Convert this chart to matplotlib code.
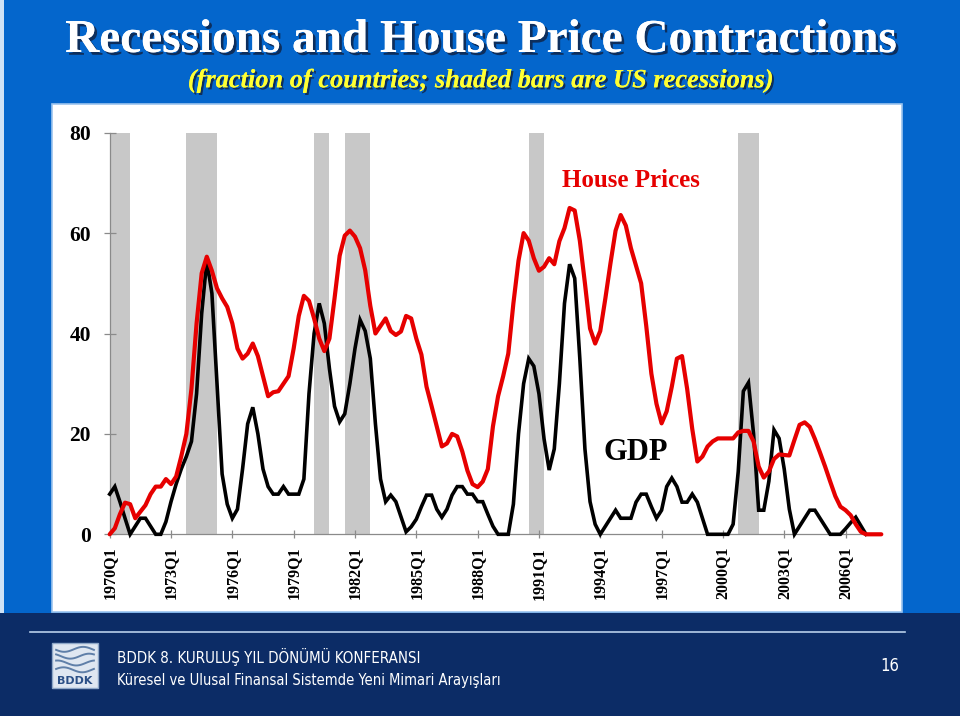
import numpy as np
import matplotlib
matplotlib.use("Agg")
import matplotlib.pyplot as plt
from matplotlib.patches import Rectangle
import matplotlib.patheffects as pe

# fraction of countries (%), quarterly from 1970Q1
gdp = [8, 9.5, 6.5, 3.2, 0, 1.6, 3.2, 3.2, 1.6, 0,
       0, 2.5, 6.5, 10, 13, 15.5, 18.5, 28, 44, 54.5,
       48, 30, 12, 6, 3.2, 5, 13, 22, 25.3, 20,
       13, 9.5, 8, 8, 9.5, 8, 8, 8, 11, 28,
       40, 46, 42, 33, 25.5, 22.4, 24, 30, 37, 42.7,
       40.5, 35, 22, 11, 6.5, 7.8, 6.5, 3.5, 0.5, 1.5,
       3, 5.5, 7.8, 7.8, 5, 3.4, 5, 7.8, 9.5, 9.5,
       8, 8, 6.5, 6.5, 4, 1.6, 0, 0, 0, 6,
       20, 30, 35, 33.5, 28, 19, 12.8, 17, 30, 46,
       53.8, 51, 35, 17, 6.5, 2, 0, 1.6, 3.2, 4.8,
       3.2, 3.2, 3.2, 6.4, 8, 8, 5.5, 3.2, 4.8, 9.5,
       11.2, 9.5, 6.4, 6.4, 8, 6.4, 3.2, 0, 0, 0,
       0, 0, 2, 12.5, 28.5, 30.2, 20, 4.8, 4.8, 10.6,
       20.8, 19.1, 13, 5, 0, 1.6, 3.2, 4.8, 4.8, 3.2,
       1.6, 0, 0, 0, 1.1, 2.3, 3.4, 1.7, 0]

house = [0, 1.2, 4, 6.3, 6, 3.2, 4.5, 5.8, 8, 9.5,
         9.5, 11, 10, 11.5, 15.5, 20, 29, 42, 52, 55.3,
         52.5, 49, 47, 45.3, 42, 37, 35, 36, 38, 35.5,
         31.5, 27.5, 28.3, 28.5, 30, 31.5, 37, 43.5, 47.5, 46.5,
         43, 39, 36.5, 39, 47, 55.5, 59.5, 60.5, 59.3, 57,
         52.6, 45.5, 40, 41.5, 43, 40.5, 39.7, 40.4, 43.5, 43,
         39, 35.8, 29.4, 25.5, 21.5, 17.5, 18.1, 20, 19.5, 16.5,
         12.7, 10, 9.4, 10.5, 13, 21.5, 27.5, 31.5, 36, 46,
         54.5, 60, 58.5, 55, 52.5, 53.3, 55, 53.8, 58.4, 61,
         65, 64.5, 58.5, 50, 41, 38, 40.5, 47, 54, 60.5,
         63.6, 61.5, 57, 53.5, 50, 41.5, 32, 26, 22.1, 24.5,
         29.4, 35, 35.5, 29, 21, 14.5, 15.5, 17.5, 18.5, 19.1,
         19.1, 19.1, 19.1, 20.3, 20.6, 20.6, 18.5, 13.5, 11.3, 12.5,
         15, 15.9, 15.8, 15.7, 18.8, 21.8, 22.3, 21.4, 19, 16.3,
         13.5, 10.5, 7.6, 5.5, 4.8, 3.8, 2, 0.5, 0, 0,
         0, 0]

rec_start = ["1970Q1", "1973Q4", "1980Q1", "1981Q3", "1990Q3", "2000Q4"]
rec_end = ["1971Q1", "1975Q2", "1980Q4", "1982Q4", "1991Q2", "2001Q4"]

tick_labels = ["1970Q1", "1973Q1", "1976Q1", "1979Q1", "1982Q1", "1985Q1",
               "1988Q1", "1991Q1", "1994Q1", "1997Q1", "2000Q1", "2003Q1", "2006Q1"]


def qidx(s):
    return (int(s[:4]) - 1970) * 4 + int(s[-1]) - 1


W, H = 960, 716


def fx(x):
    return x / W


def fy(y):
    return 1 - y / H


fig = plt.figure(figsize=(9.6, 7.16), dpi=100)
fig.patch.set_facecolor("#0466cc")

# footer band
fig.patches.append(Rectangle((0, 0), 1, fy(613), transform=fig.transFigure,
                             facecolor="#0c2c66", edgecolor="none", zorder=-3))
# thin light edge on the left of the slide
fig.patches.append(Rectangle((0, fy(613)), fx(4), 1 - fy(613), transform=fig.transFigure,
                             facecolor="#cfe2f6", edgecolor="none", zorder=-3))
# white chart panel
fig.patches.append(Rectangle((fx(52), fy(612)), fx(902) - fx(52), fy(104) - fy(612),
                             transform=fig.transFigure, facecolor="white",
                             edgecolor="#9cc4ee", linewidth=1.2, zorder=-2))
# separator line in footer
fig.add_artist(plt.Line2D([fx(30), fx(905)], [fy(632), fy(632)],
                          transform=fig.transFigure, color="#b8cfea", linewidth=1.2))

serif = "Liberation Serif"

t1 = fig.text(fx(481), fy(41), "Recessions and House Price Contractions",
              ha="center", va="center", color="white", fontsize=34,
              fontweight="bold", family=serif)
t1.set_path_effects([pe.withSimplePatchShadow(offset=(2, -2), shadow_rgbFace="#102040", alpha=0.8),
                     pe.Normal()])
t2 = fig.text(fx(481), fy(81), "(fraction of countries; shaded bars are US recessions)",
              ha="center", va="center", color="#ffff33", fontsize=19,
              fontweight="bold", fontstyle="italic", family=serif)
t2.set_path_effects([pe.withSimplePatchShadow(offset=(1.5, -1.5), shadow_rgbFace="#102040", alpha=0.8),
                     pe.Normal()])

# axes placed so that t=0 -> x=109.7 px, value 0 -> y=534.3 px
left_px, right_px, top_px, bot_px = 100, 895, 120, 540
ax = fig.add_axes([fx(left_px), fy(bot_px), fx(right_px) - fx(left_px), fy(top_px) - fy(bot_px)])
ax.set_zorder(2)
ax.set_facecolor("none")
ax.set_xlim((left_px - 109.7) / 5.11, (right_px - 109.7) / 5.11)
ax.set_ylim((534.3 - bot_px) / 5.02, (534.3 - top_px) / 5.02)

for s, e in zip(rec_start, rec_end):
    a, b = qidx(s), qidx(e)
    ax.bar(a, 80, width=b - a, bottom=0, align="edge", color="#c8c8c8",
           edgecolor="none", zorder=1)

ax.plot(np.arange(len(gdp)), gdp, color="black", linewidth=2.6, zorder=3,
        solid_joinstyle="miter")
ax.plot(np.arange(len(house)), house, color="#e60000", linewidth=3.0, zorder=4,
        solid_joinstyle="round", solid_capstyle="round")

for sp in ["top", "right"]:
    ax.spines[sp].set_visible(False)
ax.spines["left"].set_position(("data", 0))
ax.spines["left"].set_bounds(0, 80)
ax.spines["bottom"].set_position(("data", 0))
ax.spines["bottom"].set_bounds(0, 151)
for sp in ["left", "bottom"]:
    ax.spines[sp].set_color("#8a8a8a")
    ax.spines[sp].set_linewidth(0.9)
    ax.spines[sp].set_zorder(2)

ax.set_yticks([0, 20, 40, 60, 80])
ax.set_yticklabels(["0", "20", "40", "60", "80"], family=serif, fontweight="bold", fontsize=15.5)
ax.set_xticks([qidx(l) for l in tick_labels])
ax.set_xticklabels(tick_labels, rotation=90, family=serif, fontweight="bold", fontsize=11.5)
ax.tick_params(axis="y", direction="inout", length=9, width=0.9, color="#8a8a8a", pad=9)
ax.tick_params(axis="x", direction="inout", length=6, width=0.9, color="#8a8a8a", pad=6)

ax.text(qidx("1997Q1") - 6, 70.5, "House Prices", color="#e60000", fontsize=18,
        fontweight="bold", family=serif, ha="center", va="center")
ax.text(qidx("1997Q1") - 5, 16.2, "GDP", color="black", fontsize=22,
        fontweight="bold", family=serif, ha="center", va="center")

# footer: logo box and conference text
fig.patches.append(Rectangle((fx(52), fy(688)), fx(98) - fx(52), fy(643) - fy(688),
                             transform=fig.transFigure, facecolor="#dfe7f1",
                             edgecolor="#8fa8c8", linewidth=1, zorder=-1))
lg = fig.add_axes([fx(54), fy(676), fx(96) - fx(54), fy(645) - fy(676)])
lg.set_zorder(2)
lg.set_xlim(0, 1)
lg.set_ylim(0, 1)
lg.axis("off")
wx = np.linspace(0.05, 0.95, 40)
for k, base in enumerate([0.2, 0.42, 0.64, 0.86]):
    lg.plot(wx, base + 0.08 * np.sin(wx * 7 + k), color="#5f7fa8", linewidth=1.4)
fig.text(fx(75), fy(681), "BDDK", ha="center", va="center", color="#2a4f86",
         fontsize=8, fontweight="bold", family="DejaVu Sans")

sans = "DejaVu Sans"
fig.text(fx(117), fy(657), "BDDK 8. KURULUŞ YIL DÖNÜMÜ KONFERANSI", color="white",
         fontsize=10.8, ha="left", va="center", family=sans, fontstretch="condensed")
fig.text(fx(117), fy(681), "Küresel ve Ulusal Finansal Sistemde Yeni Mimari Arayışları",
         color="white", fontsize=10.5, ha="left", va="center", family=sans, fontstretch="condensed")
fig.text(fx(890), fy(666), "16", color="white", fontsize=12, ha="center", va="center",
         family=sans, fontstretch="condensed")

fig.savefig("out.png", dpi=100)
